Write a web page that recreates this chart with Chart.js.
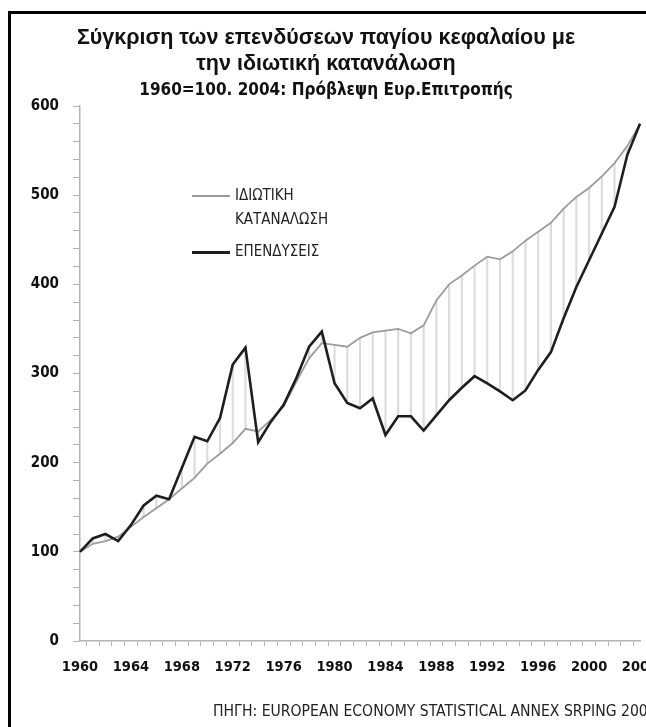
<!DOCTYPE html>
<html><head><meta charset="utf-8">
<script src="https://cdn.jsdelivr.net/npm/chart.js@4/dist/chart.umd.min.js"></script>
<style>
html,body{margin:0;padding:0;background:#fff;overflow:hidden;width:646px;height:727px;position:relative;}
#frame{position:absolute;left:8px;top:11px;width:720px;height:760px;border-left:3px solid #000;border-top:3px solid #000;}
#wrap{position:absolute;left:0;top:0;width:700px;height:727px;}
.t{position:absolute;left:0;width:652px;text-align:center;font-family:'Liberation Sans',Arial,sans-serif;font-weight:bold;color:#111;white-space:nowrap;}
.narrow{font-family:'Liberation Sans Narrow','DejaVu Sans Condensed','Liberation Sans',Arial,sans-serif;}
.lg{position:absolute;font-size:15px;color:#222;white-space:nowrap;}
.ln{position:absolute;height:0;}
#src{position:absolute;left:213px;top:702px;font-size:15.6px;color:#222;white-space:nowrap;}
</style></head>
<body>
<div id="frame"></div>
<div id="wrap"><canvas id="c" width="700" height="727"></canvas></div>
<div class="t" style="top:25px;font-size:21.5px;">Σύγκριση των επενδύσεων παγίου κεφαλαίου με</div>
<div class="t" style="top:51px;font-size:21.5px;">την ιδιωτική κατανάλωση</div>
<div class="t narrow" style="top:79px;font-size:17px;">1960=100. 2004: Πρόβλεψη Ευρ.Επιτροπής</div>
<div class="ln" style="left:192px;top:195px;width:38px;border-top:2px solid #9a9a9a;"></div>
<div class="lg narrow" style="left:235px;top:186px;">ΙΔΙΩΤΙΚΗ</div>
<div class="lg narrow" style="left:235px;top:210px;">ΚΑΤΑΝΑΛΩΣΗ</div>
<div class="ln" style="left:192px;top:251px;width:38px;border-top:3px solid #1e1e1e;"></div>
<div class="lg narrow" style="left:235px;top:242px;">ΕΠΕΝΔΥΣΕΙΣ</div>
<div id="src" class="narrow">ΠΗΓΗ: EUROPEAN ECONOMY STATISTICAL ANNEX SRPING 2003</div>
<script>
const years = ['1960','1961','1962','1963','1964','1965','1966','1967','1968','1969',
  '1970','1971','1972','1973','1974','1975','1976','1977','1978','1979',
  '1980','1981','1982','1983','1984','1985','1986','1987','1988','1989',
  '1990','1991','1992','1993','1994','1995','1996','1997','1998','1999',
  '2000','2001','2002','2003','2004'];
const consumption = [100,109,112,117,128,139,149,159,171,183,
  199,210,222,238,235,248,263,291,317,334,
  332,330,340,346,348,350,345,354,382,400,
  410,421,431,428,437,449,459,469,485,498,
  508,521,536,555,580];
const investment = [100,115,120,112,130,152,163,159,194,229,
  224,250,310,329,223,246,265,295,330,347,
  289,267,261,272,231,252,252,236,253,270,
  284,297,289,280,270,281,304,324,362,397,
  427,457,487,545,580];
const xTickLabels = ['1960','1964','1968','1972','1976','1980','1984','1988','1992','1996','2000','2004'];
const yTickLabels = [0,100,200,300,400,500,600];

const gap = consumption.map((c,i)=>[Math.min(c,investment[i]),Math.max(c,investment[i])]);
const fam = "'Liberation Sans Narrow','DejaVu Sans Condensed','Liberation Sans',Arial,sans-serif";
const axisCol = '#b4b4b4';

new Chart(document.getElementById('c'), {
  data: {
    labels: years,
    datasets: [
      {type:'bar', label:'gap', data:gap, backgroundColor:'#dcdcdc', barThickness:1.5, order:3},
      {type:'line', label:'ΙΔΙΩΤΙΚΗ ΚΑΤΑΝΑΛΩΣΗ', data:consumption, borderColor:'#9c9c9c', borderWidth:1.8, pointRadius:0, tension:0, order:2},
      {type:'line', label:'ΕΠΕΝΔΥΣΕΙΣ', data:investment, borderColor:'#1e1e1e', borderWidth:2.6, pointRadius:0, tension:0, order:1}
    ]
  },
  options: {
    responsive:false, animation:false,
    layout:{padding:{left:30,right:60,top:106,bottom:46}},
    plugins:{legend:{display:false}, title:{display:false}, tooltip:{enabled:false}},
    scales:{
      x:{type:'category', offset:false,
        grid:{display:true, drawOnChartArea:false, drawTicks:true, tickLength:5, color:axisCol, lineWidth:1},
        border:{display:true, color:axisCol, width:1.5},
        ticks:{autoSkip:false, maxRotation:0, minRotation:0, padding:13, color:'#111', font:{family:fam,size:14.5,weight:'bold'},
          callback:(v,i)=> xTickLabels.includes(years[i]) ? years[i] : ''},
        afterFit:(s)=>{s.height=40; s.paddingLeft=0; s.paddingRight=0;}
      },
      y:{min:0, max:600,
        grid:{display:true, drawOnChartArea:false, drawTicks:true, tickLength:7, color:axisCol, lineWidth:1},
        border:{display:true, color:axisCol, width:1.5},
        ticks:{stepSize:20, autoSkip:false, padding:14, color:'#111', font:{family:fam,size:15,weight:'bold'},
          callback:(v)=> yTickLabels.includes(v) ? String(v) : ''},
        afterFit:(s)=>{s.width=50; s.paddingTop=0; s.paddingBottom=0;}
      }
    }
  }
});
</script>
</body></html>
